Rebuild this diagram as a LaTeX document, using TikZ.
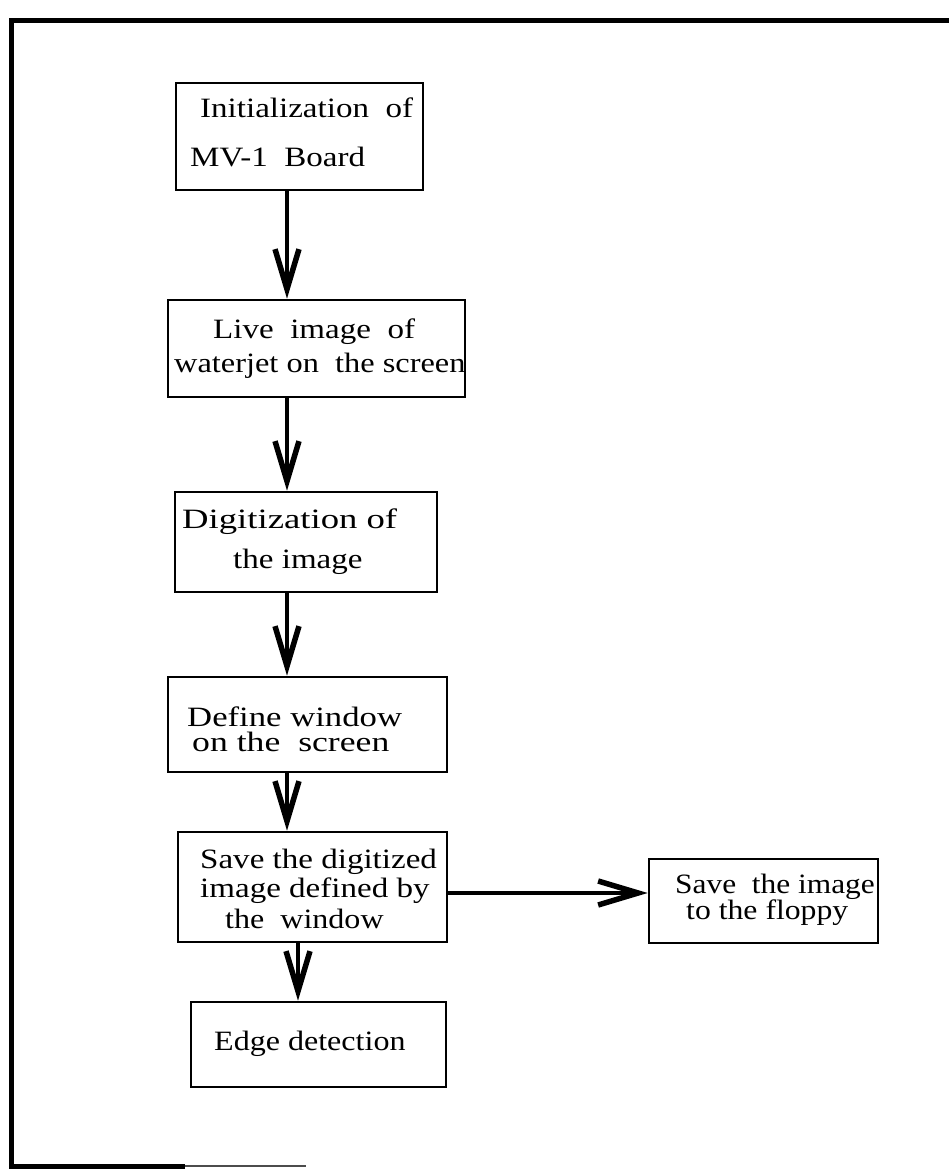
\documentclass[tikz,border=0pt]{standalone}
\usepackage{fontspec}
\setmainfont[FakeStretch=1.18]{Liberation Serif}
\usetikzlibrary{arrows.meta}
\newcommand{\hstretch}[2]{\scalebox{#1}[1]{#2}}
\begin{document}
\begin{tikzpicture}[x=1pt,y=-1pt,
  box/.style={draw, line width=2.6pt, inner sep=0pt},
  txt/.style={anchor=base west, inner sep=0pt, font=\fontsize{28}{30}\selectfont},
  arr/.style={line width=4.5pt, -{Straight Barb[length=40pt,width=24pt,line width=5.5pt]}}]
\useasboundingbox (0,0) rectangle (949,1169);
% outer frame
\draw[line width=5pt] (949,21) -- (11,21) -- (11,1166) -- (185,1166);
\draw[line width=2.5pt, black!70] (185,1166) -- (306,1166);
% boxes
\node[box, minimum width=247pt, minimum height=107pt] (b1) at (299.5,136.5) {};
\node[box, minimum width=297pt, minimum height=97pt]  (b2) at (316.5,348.5) {};
\node[box, minimum width=262pt, minimum height=100pt] (b3) at (306,542) {};
\node[box, minimum width=279pt, minimum height=95pt]  (b4) at (307.5,724.5) {};
\node[box, minimum width=269pt, minimum height=110pt] (b5) at (312.5,887) {};
\node[box, minimum width=255pt, minimum height=85pt]  (b6) at (318.5,1044.5) {};
\node[box, minimum width=229pt, minimum height=84pt]  (b7) at (763.5,901) {};
% texts
\node[txt] (t1a) at (200,118) {Initialization\ \ of};
\node[txt] (t1b) at (190,167) {MV-1\ \ Board};
\node[txt] (t2a) at (213,338) {Live\ \ image\ \ of};
\node[txt] (t2b) at (174,372) {\hstretch{0.98}{waterjet on\ \ the screen}};
\node[txt] (t3a) at (182,528) {\hstretch{1.11}{Digitization of}};
\node[txt] (t3b) at (233,568) {the image};
\node[txt] (t4a) at (187,726) {\hstretch{1.05}{Define window}};
\node[txt] (t4b) at (192,751) {\hstretch{1.08}{on the\ \ screen}};
\node[txt] (t5a) at (200,868) {Save the digitized};
\node[txt] (t5b) at (200,897) {image defined by};
\node[txt] (t5c) at (225,928) {\hstretch{0.97}{the\ \ window}};
\node[txt] (t6) at (214,1050) {\hstretch{0.97}{Edge detection}};
\node[txt] (t7a) at (675,893) {\hstretch{0.95}{Save\ \ the image}};
\node[txt] (t7b) at (686,919) {\hstretch{0.96}{to the floppy}};
% connectors
\draw[arr] (287,0 |- b1.south) -- (287,0 |- b2.north);
\draw[arr] (287,0 |- b2.south) -- (287,0 |- b3.north);
\draw[arr] (287,0 |- b3.south) -- (287,0 |- b4.north);
\draw[arr] (287,0 |- b4.south) -- (287,0 |- b5.north);
\draw[arr] (298,0 |- b5.south) -- (298,0 |- b6.north);
\draw[arr] (b5.east |- 0,893) -- (b7.west |- 0,893);
\end{tikzpicture}
\end{document}
